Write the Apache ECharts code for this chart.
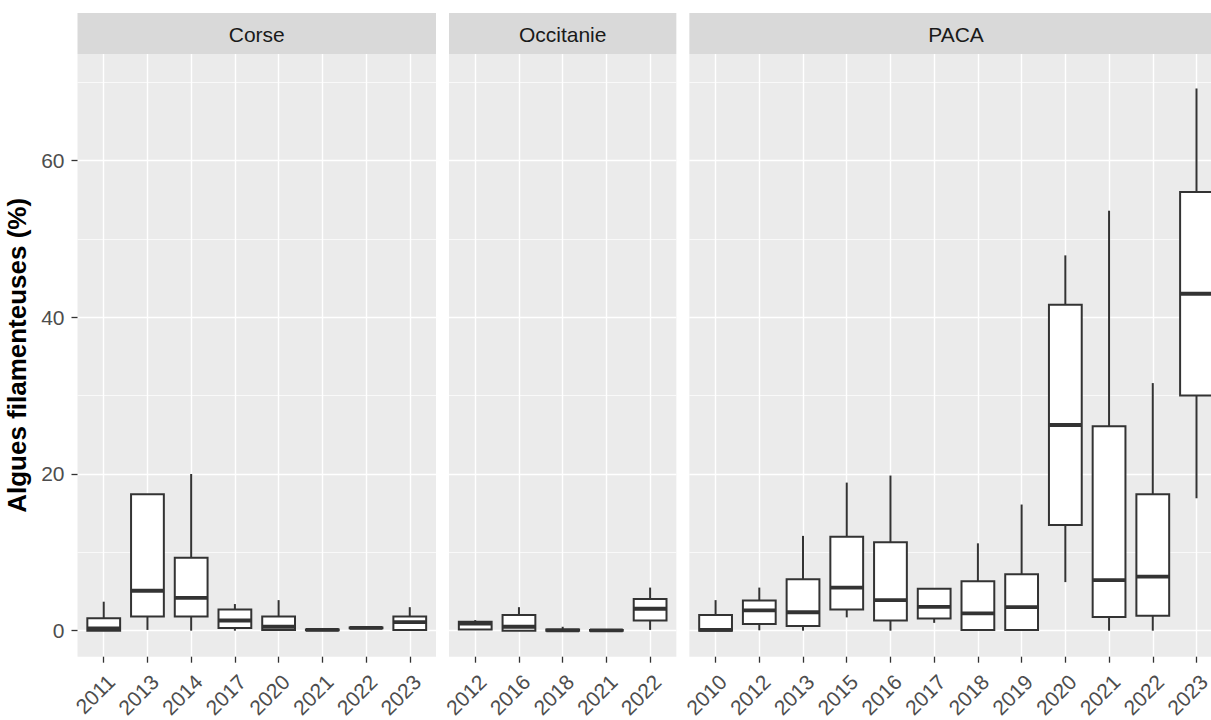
<!DOCTYPE html>
<html>
<head>
<meta charset="utf-8">
<script src="https://cdn.jsdelivr.net/npm/echarts@6/dist/echarts.min.js"></script>
<style>
  html, body { margin: 0; padding: 0; background: #ffffff; }
  #chart { width: 1211px; height: 720px; }
</style>
</head>
<body>
<div id="chart"></div>
<script>
// Algues filamenteuses (%) : boxplots par année, un panneau par région.
// Each stats row: [lower whisker, Q1, median, Q3, upper whisker]
const regions = ['Corse', 'Occitanie', 'PACA'];

const corseYears = ['2011', '2013', '2014', '2017', '2020', '2021', '2022', '2023'];
const corseStats = [
  [0.0, 0.0, 0.3, 1.6, 3.7],
  [0.1, 1.8, 5.1, 17.4, 17.4],
  [0.0, 1.8, 4.2, 9.3, 20.0],
  [0.0, 0.35, 1.3, 2.7, 3.4],
  [0.0, 0.1, 0.5, 1.8, 3.9],
  [0.0, 0.05, 0.1, 0.15, 0.2],
  [0.25, 0.3, 0.35, 0.4, 0.45],
  [0.0, 0.1, 1.1, 1.8, 3.0]
];

const occitanieYears = ['2012', '2016', '2018', '2021', '2022'];
const occitanieStats = [
  [0.1, 0.15, 0.9, 1.15, 1.35],
  [0.0, 0.0, 0.5, 2.0, 3.0],
  [0.0, 0.0, 0.05, 0.15, 0.5],
  [0.0, 0.0, 0.05, 0.1, 0.1],
  [0.1, 1.3, 2.8, 4.05, 5.5]
];

const pacaYears = ['2010', '2012', '2013', '2015', '2016', '2017', '2018', '2019', '2020', '2021', '2022', '2023'];
const pacaStats = [
  [0.0, 0.0, 0.1, 2.0, 3.9],
  [0.05, 0.85, 2.6, 3.85, 5.5],
  [0.0, 0.6, 2.35, 6.55, 12.1],
  [1.7, 2.7, 5.5, 12.0, 18.9],
  [0.0, 1.3, 3.9, 11.3, 19.8],
  [1.0, 1.55, 3.05, 5.35, 5.4],
  [0.0, 0.1, 2.2, 6.3, 11.15],
  [0.0, 0.1, 3.0, 7.2, 16.1],
  [6.2, 13.5, 26.25, 41.6, 47.9],
  [0.0, 1.75, 6.45, 26.1, 53.6],
  [0.0, 1.9, 6.9, 17.4, 31.6],
  [16.9, 30.0, 43.0, 56.0, 69.2]
];

const yTicks = [0, 20, 40, 60];
const yMinorTicks = [10, 30, 50, 70];
const yTitle = 'Algues filamenteuses (%)';

// ---- layout ----
const FONT = '"Liberation Sans", Arial, Helvetica, sans-serif';
const UNIT = 43.72;          // px per category step
const PAD = 0.6;             // discrete axis expansion on each side
const GAP = 13;              // space between panels
const PANEL_LEFT = 77.5;
const PANEL_TOP = 54;
const PANEL_H = 602.7;
const STRIP_TOP = 13;
const STRIP_H = 41;
const Y_MIN = -3.32;
const Y_MAX = 73.6;
const BOX_WIDTH = 0.75;      // in category units
const TEXT_SIZE = 21;

const panels = [
  { name: regions[0], years: corseYears, stats: corseStats },
  { name: regions[1], years: occitanieYears, stats: occitanieStats },
  { name: regions[2], years: pacaYears, stats: pacaStats }
];

let cursor = PANEL_LEFT;
panels.forEach(p => {
  p.left = cursor;
  p.width = (p.years.length - 1 + 2 * PAD) * UNIT;
  cursor += p.width + GAP;
});

const grids = [], xAxes = [], yAxes = [], series = [], graphics = [];

function renderBox(params, api) {
  const x = api.value(0);
  const lo = api.coord([x, api.value(1)]);
  const q1 = api.coord([x, api.value(2)]);
  const md = api.coord([x, api.value(3)]);
  const q3 = api.coord([x, api.value(4)]);
  const hi = api.coord([x, api.value(5)]);
  const half = api.size([BOX_WIDTH, 0])[0] / 2;
  const edge = { stroke: '#333333', lineWidth: 2 };
  return {
    type: 'group',
    children: [
      { type: 'line', shape: { x1: lo[0], y1: lo[1], x2: q1[0], y2: q1[1] }, style: edge },
      { type: 'line', shape: { x1: q3[0], y1: q3[1], x2: hi[0], y2: hi[1] }, style: edge },
      {
        type: 'rect',
        shape: { x: q1[0] - half, y: q3[1], width: half * 2, height: q1[1] - q3[1] },
        style: { fill: '#ffffff', stroke: '#333333', lineWidth: 2 }
      },
      {
        type: 'line',
        shape: { x1: md[0] - half, y1: md[1], x2: md[0] + half, y2: md[1] },
        style: { stroke: '#333333', lineWidth: 3.8 }
      }
    ]
  };
}

panels.forEach((p, i) => {
  const n = p.years.length;
  const idx = p.years.map((_, k) => k);

  grids.push({
    left: p.left, top: PANEL_TOP, width: p.width, height: PANEL_H,
    show: true, backgroundColor: '#EBEBEB', borderWidth: 0,
    containLabel: false, outerBoundsMode: 'none'
  });

  xAxes.push({
    type: 'value', gridIndex: i, min: -PAD, max: n - 1 + PAD, position: 'bottom',
    axisLine: { show: false, onZero: false },
    axisTick: { show: true, customValues: idx, length: 6, lineStyle: { color: '#333333', width: 1.3 } },
    axisLabel: {
      customValues: idx,
      formatter: v => p.years[Math.round(v)],
      rotate: 45, align: 'right', verticalAlign: 'top', margin: 14,
      fontFamily: FONT, fontSize: TEXT_SIZE, color: '#4D4D4D'
    },
    splitLine: { show: true, lineStyle: { color: '#ffffff', width: 1.4 } }
  });

  // major horizontal grid + labels
  yAxes.push({
    type: 'value', gridIndex: i, min: Y_MIN, max: Y_MAX, position: 'left',
    axisLine: { show: false, onZero: false },
    axisTick: { show: i === 0, customValues: yTicks, length: 6, lineStyle: { color: '#333333', width: 1.3 } },
    axisLabel: { show: i === 0, customValues: yTicks, margin: 13, fontFamily: FONT, fontSize: TEXT_SIZE, color: '#4D4D4D' },
    splitLine: { show: true, lineStyle: { color: '#ffffff', width: 1.4 } },
    name: i === 0 ? yTitle : '',
    nameLocation: 'middle', nameRotate: 90, nameGap: 48,
    nameTextStyle: { fontFamily: FONT, fontSize: 26, fontWeight: 'bold', color: '#000000' }
  });
  // minor horizontal grid
  yAxes.push({
    type: 'value', gridIndex: i, min: Y_MIN, max: Y_MAX, position: 'left',
    axisLine: { show: false, onZero: false },
    axisTick: { show: false, customValues: yMinorTicks },
    axisLabel: { show: false, customValues: yMinorTicks },
    splitLine: { show: true, lineStyle: { color: '#ffffff', width: 0.7 } }
  });

  series.push({
    type: 'custom',
    xAxisIndex: i,
    yAxisIndex: 2 * i,
    renderItem: renderBox,
    encode: { x: 0, y: [1, 2, 3, 4, 5] },
    data: p.stats.map((s, k) => [k].concat(s)),
    z: 5,
    silent: true
  });

  // facet strip
  graphics.push({
    type: 'group',
    children: [
      {
        type: 'rect',
        shape: { x: p.left, y: STRIP_TOP, width: p.width, height: STRIP_H },
        style: { fill: '#D9D9D9' }
      },
      {
        type: 'text',
        x: p.left + p.width / 2,
        y: STRIP_TOP + STRIP_H / 2 + 1,
        style: {
          text: p.name, fontFamily: FONT, fontSize: TEXT_SIZE, fill: '#1A1A1A',
          textAlign: 'center', textVerticalAlign: 'middle'
        }
      }
    ]
  });
});

const chart = echarts.init(document.getElementById('chart'), null, { renderer: 'svg' });
chart.setOption({
  animation: false,
  backgroundColor: '#ffffff',
  grid: grids,
  xAxis: xAxes,
  yAxis: yAxes,
  series: series,
  graphic: graphics
});
</script>
</body>
</html>
